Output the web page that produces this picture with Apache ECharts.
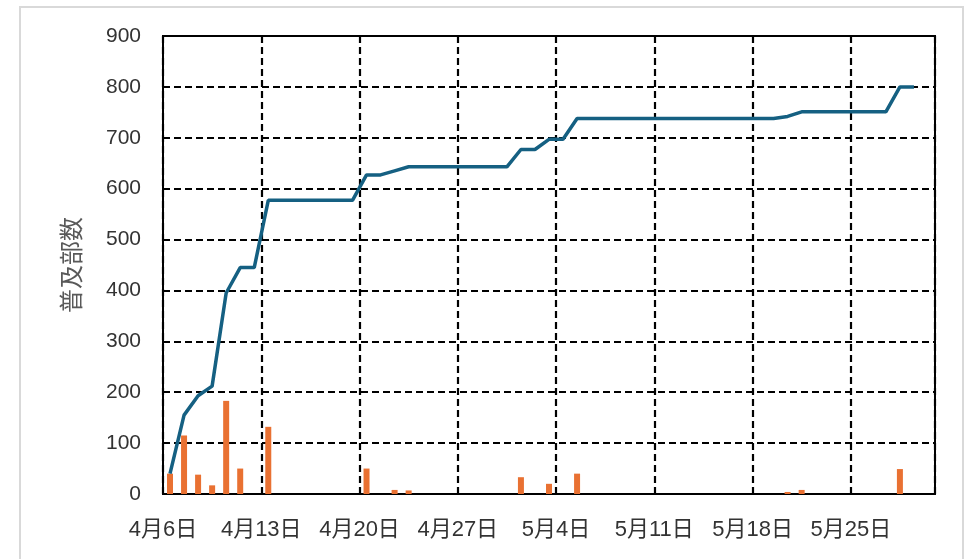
<!DOCTYPE html>
<html>
<head>
<meta charset="utf-8">
<script src="https://cdn.jsdelivr.net/npm/echarts@6/dist/echarts.min.js"></script>
<style>
html,body{margin:0;padding:0;background:#fff;}
#chart{width:971px;height:559px;}
</style>
</head>
<body>
<div id="chart"></div>
<script>
// ---- data ----
const year = 2025;
const axisStart = '4/6';
const axisDays = 55;           // 4/6 .. 5/30
const tickLabelDates = ['4/6','4/13','4/20','4/27','5/4','5/11','5/18','5/25'];

const barDates  = ['4/6','4/7','4/8','4/9','4/10','4/11','4/13','4/20','4/22','4/23','5/1','5/3','5/5','5/20','5/21','5/28'];
const barValues = [40, 115, 38, 17, 183, 50, 132, 50, 8, 7, 33, 20, 40, 4, 8, 49];

const lineDates = ['4/6','4/7','4/8','4/9','4/10','4/11','4/12','4/13','4/14','4/15','4/16','4/17','4/18','4/19',
  '4/20','4/21','4/22','4/23','4/24','4/25','4/26','4/27','4/28','4/29','4/30',
  '5/1','5/2','5/3','5/4','5/5','5/6','5/7','5/8','5/9','5/10','5/11','5/12','5/13','5/14','5/15','5/16','5/17','5/18','5/19',
  '5/20','5/21','5/22','5/23','5/24','5/25','5/26','5/27','5/28','5/29'];
const lineValues = [40,155,193,212,395,445,445,577,577,577,577,577,577,577,
  627,627,635,643,643,643,643,643,643,643,643,
  677,677,697,697,738,738,738,738,738,738,738,738,738,738,738,738,738,738,738,
  742,751,751,751,751,751,751,751,800,800];

const yTicks = {min: 0, max: 900, interval: 100};
const yName = '普及部数';

// ---- helpers ----
function toDate(s){ const [m,d] = s.split('/').map(Number); return new Date(year, m-1, d); }
const t0 = toDate(axisStart).getTime();
function dayIndex(s){ return Math.round((toDate(s).getTime() - t0) / 86400000); }
// Excel date axis: each date occupies a one-day band; marks sit at the band centre
function pos(s){ return dayIndex(s) + 0.5; }
const labelMap = {};
tickLabelDates.forEach(s => { const [m,d] = s.split('/'); labelMap[dayIndex(s)] = m + '月' + d + '日'; });

const FONT = "'Liberation Sans', 'Noto Sans CJK JP', sans-serif";
const chart = echarts.init(document.getElementById('chart'), null, {renderer: 'canvas'});
chart.setOption({
  backgroundColor: '#ffffff',
  animation: false,
  graphic: [{
    type: 'rect', shape: {x: 20, y: 7, width: 943, height: 600},
    style: {fill: 'none', stroke: '#d9d9d9', lineWidth: 2}, silent: true, z: -10
  }],
  grid: {left: 163, top: 36, right: 36, bottom: 65, show: true, borderColor: '#000', borderWidth: 2, backgroundColor: 'transparent'},
  xAxis: {
    type: 'value', min: 0, max: axisDays, interval: 7,
    axisLine: {show: true, lineStyle: {color: '#000', width: 2}},
    axisTick: {show: false},
    splitLine: {show: true, lineStyle: {color: '#000', width: 2.2, type: [7, 4]}},
    axisLabel: {
      color: '#333333', fontSize: 22, fontFamily: FONT, margin: 25,
      showMaxLabel: false,
      formatter: v => labelMap[Math.round(v)] || ''
    }
  },
  yAxis: {
    type: 'value', min: yTicks.min, max: yTicks.max, interval: yTicks.interval,
    name: yName, nameLocation: 'middle', nameRotate: 90, nameGap: 78,
    nameTextStyle: {color: '#595959', fontSize: 24, fontFamily: FONT},
    axisLine: {show: true, lineStyle: {color: '#000', width: 2}},
    axisTick: {show: false},
    splitLine: {show: true, lineStyle: {color: '#000', width: 2.2, type: [7, 4]}},
    axisLabel: {color: '#333333', fontSize: 21, fontFamily: FONT, margin: 22}
  },
  series: [
    {
      type: 'bar', name: '日別',
      data: barDates.map((d, i) => [pos(d), barValues[i]]),
      barWidth: 6,
      itemStyle: {color: '#E97132'},
      z: 2
    },
    {
      type: 'line', name: '普及部数',
      data: lineDates.map((d, i) => [pos(d), lineValues[i]]),
      showSymbol: false, symbol: 'none',
      lineStyle: {color: '#156082', width: 3.5},
      z: 3
    }
  ]
});
</script>
</body>
</html>
